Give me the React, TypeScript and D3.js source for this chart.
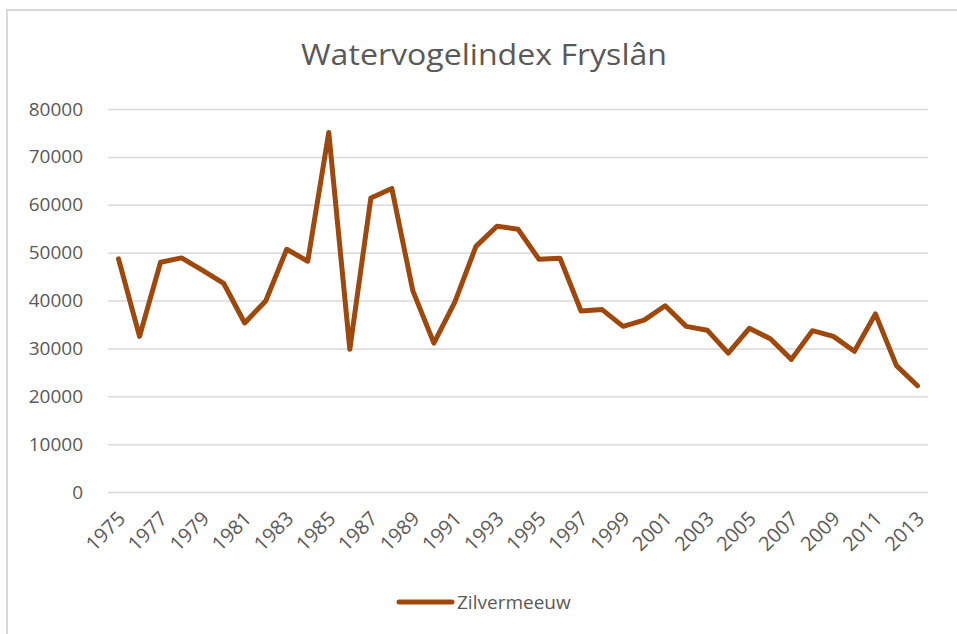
import React, { useRef, useEffect } from "react";
import { select, scaleLinear, scaleBand, line, axisLeft, axisBottom } from "d3";

const years = [
  1975, 1976, 1977, 1978, 1979, 1980, 1981, 1982, 1983, 1984, 1985, 1986, 1987,
  1988, 1989, 1990, 1991, 1992, 1993, 1994, 1995, 1996, 1997, 1998, 1999, 2000,
  2001, 2002, 2003, 2004, 2005, 2006, 2007, 2008, 2009, 2010, 2011, 2012, 2013,
];
const zilvermeeuw = [
  48700, 32500, 48000, 48900, 46300, 43600, 35300, 39900, 50700, 48200, 75100,
  29800, 61400, 63400, 42000, 31100, 39700, 51300, 55500, 54900, 48600, 48800,
  37800, 38100, 34600, 35900, 38900, 34600, 33800, 29000, 34200, 32000, 27700,
  33700, 32500, 29400, 37200, 26400, 22200,
];
const yTicks = [0, 10000, 20000, 30000, 40000, 50000, 60000, 70000, 80000];
const title = "Watervogelindex Fryslân";
const seriesName = "Zilvermeeuw";

const W = 957;
const H = 634;
const FONT = "'Open Sans', sans-serif";
const TEXT = "#595959";
const GRID = "#d9d9d9";
const LINE = "#9E480E";

const App = () => {
  const svgRef = useRef<SVGSVGElement>(null);

  useEffect(() => {
    const svg = select(svgRef.current);
    svg.selectAll("*").remove();

    const m = { left: 108, right: 928, top: 109, bottom: 492 };

    const x = scaleBand<number>().domain(years).range([m.left, m.right]);
    const y = scaleLinear().domain([0, 80000]).range([m.bottom, m.top]);

    // chart border (runs off the right and bottom of the picture)
    svg.append("rect").attr("width", W).attr("height", H).attr("fill", "white");
    svg.append("path")
      .attr("d", `M7,${H} V10 H${W}`)
      .attr("fill", "none")
      .attr("stroke", GRID).attr("stroke-width", 2);

    // title
    svg.append("text")
      .attr("x", 484).attr("y", 65)
      .attr("text-anchor", "middle")
      .attr("font-family", FONT).attr("font-size", 30)
      .attr("fill", TEXT)
      .attr("textLength", 366).attr("lengthAdjust", "spacingAndGlyphs")
      .text(title);

    // gridlines + y labels
    const yAxis = axisLeft(y).tickValues(yTicks).tickSize(-(m.right - m.left)).tickPadding(25).tickFormat((d) => String(d));
    const gy = svg.append("g").attr("transform", `translate(${m.left},0)`).call(yAxis);
    gy.select(".domain").remove();
    gy.selectAll(".tick line").attr("stroke", GRID).attr("stroke-width", 1.5);
    gy.selectAll(".tick text")
      .attr("font-family", FONT).attr("font-size", 19).attr("fill", TEXT);

    // x labels, every other year
    const xAxis = axisBottom(x).tickValues(years.filter((_, i) => i % 2 === 0)).tickSize(0).tickPadding(0);
    const gx = svg.append("g").attr("transform", `translate(0,${m.bottom})`).call(xAxis);
    gx.select(".domain").remove();
    gx.selectAll(".tick text")
      .attr("font-family", FONT).attr("font-size", 20).attr("fill", TEXT)
      .attr("text-anchor", "end")
      .attr("dy", null)
      .attr("y", 0)
      .attr("transform", "translate(8,28) rotate(-45)");

    // series line
    const path = line<number>()
      .x((_, i) => (x(years[i]) as number) + x.bandwidth() / 2)
      .y((d) => y(d));

    svg.append("path")
      .datum(zilvermeeuw)
      .attr("d", path)
      .attr("fill", "none")
      .attr("stroke", LINE).attr("stroke-width", 5)
      .attr("stroke-linejoin", "round").attr("stroke-linecap", "round");

    // legend
    svg.append("line")
      .attr("x1", 399).attr("x2", 452).attr("y1", 602).attr("y2", 602)
      .attr("stroke", LINE).attr("stroke-width", 5).attr("stroke-linecap", "round");
    svg.append("text")
      .attr("x", 457).attr("y", 609)
      .attr("font-family", FONT).attr("font-size", 19).attr("fill", TEXT)
      .text(seriesName);
  }, []);

  return (
    <div style={{ position: "absolute", left: 0, top: 0 }}>
      <svg ref={svgRef} width={W} height={H} style={{ display: "block" }} />
    </div>
  );
};

export default App;
